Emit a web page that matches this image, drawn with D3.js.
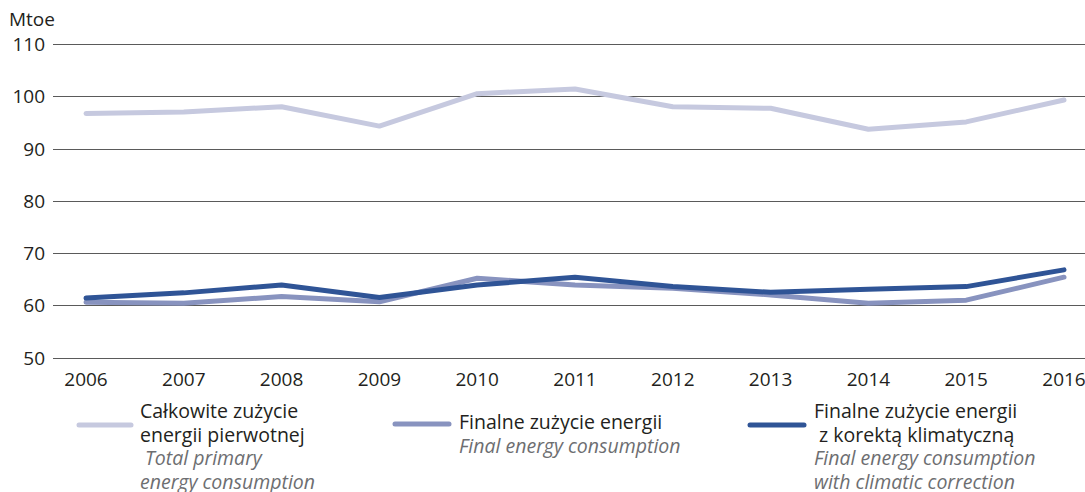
<!DOCTYPE html>
<html><head><meta charset="utf-8">
<script src="https://cdn.jsdelivr.net/npm/d3@7"></script>
<style>
body{margin:0;background:#fff;}
svg{display:block;font-family:"Open Sans",sans-serif;}
</style></head>
<body>
<svg id="chart" width="1085" height="492"></svg>
<script>
const years = [2006,2007,2008,2009,2010,2011,2012,2013,2014,2015,2016];
const totalPrimary = [96.7,97.0,98.0,94.3,100.5,101.4,98.0,97.7,93.7,95.1,99.3];
const finalEnergy = [60.6,60.4,61.7,60.7,65.2,63.9,63.3,62.0,60.4,61.0,65.4];
const finalClimatic = [61.4,62.4,63.9,61.5,63.9,65.4,63.6,62.5,63.1,63.6,66.8];
const yTicks = [50,60,70,80,90,100,110];
const unitLabel = "Mtoe";
const seriesNames = [
  {pl:["Całkowite zużycie","energii pierwotnej"], en:[" Total primary","energy consumption"]},
  {pl:["Finalne zużycie energii"], en:["Final energy consumption"]},
  {pl:["Finalne zużycie energii"," z korektą klimatyczną"], en:["Final energy consumption","with climatic correction"]}
];
const colors = ["#c6c9df","#8893bf","#2f5496"];

const svg = d3.select("#chart");
const x = d3.scalePoint().domain(years).range([86,1064]);
const y = d3.scaleLinear().domain([50,110]).range([357.7,44]);

// gridlines
svg.append("g").selectAll("line").data(yTicks).join("line")
  .attr("x1",53).attr("x2",1085)
  .attr("y1",d=>Math.round(y(d))+0.5).attr("y2",d=>Math.round(y(d))+0.5)
  .attr("stroke","#5a5a5a").attr("stroke-width",1.2);

// y labels
svg.append("g").selectAll("text").data(yTicks).join("text")
  .attr("x",45).attr("y",d=>y(d)+7)
  .attr("text-anchor","end").attr("font-size",19).attr("fill","#231f20")
  .text(d=>d);
svg.append("text").attr("x",9).attr("y",26).attr("font-size",19).attr("fill","#231f20").text(unitLabel);

// x labels
svg.append("g").selectAll("text").data(years).join("text")
  .attr("x",d=>x(d)).attr("y",386)
  .attr("text-anchor","middle").attr("font-size",19).attr("fill","#231f20")
  .text(d=>d);

const line = d3.line().x((d,i)=>x(years[i])).y(d=>y(d));
[totalPrimary, finalEnergy, finalClimatic].forEach((s,i)=>{
  svg.append("path").datum(s).attr("d",line)
    .attr("fill","none").attr("stroke",colors[i]).attr("stroke-width",5)
    .attr("stroke-linejoin","round").attr("stroke-linecap","round");
});

// legend
const legend = [
  {x1:79,x2:131,ly:425,tx:140,ty:418},
  {x1:395,x2:449,ly:424,tx:459,ty:429},
  {x1:750,x2:804,ly:425,tx:814,ty:418}
];
legend.forEach((L,i)=>{
  svg.append("line").attr("x1",L.x1).attr("x2",L.x2).attr("y1",L.ly).attr("y2",L.ly)
    .attr("stroke",colors[i]).attr("stroke-width",5).attr("stroke-linecap","round");
  const t = svg.append("text").attr("font-size",19.5).attr("x",L.tx).attr("y",L.ty);
  let k=0;
  seriesNames[i].pl.forEach(s=>{
    t.append("tspan").attr("x",L.tx).attr("y",L.ty+k*23.5).attr("fill","#231f20").attr("xml:space","preserve").text(s); k++;
  });
  seriesNames[i].en.forEach(s=>{
    t.append("tspan").attr("x",L.tx).attr("y",L.ty+k*23.5).attr("fill","#6d6e71").attr("font-style","italic").attr("xml:space","preserve").text(s); k++;
  });
});
</script>
</body></html>
